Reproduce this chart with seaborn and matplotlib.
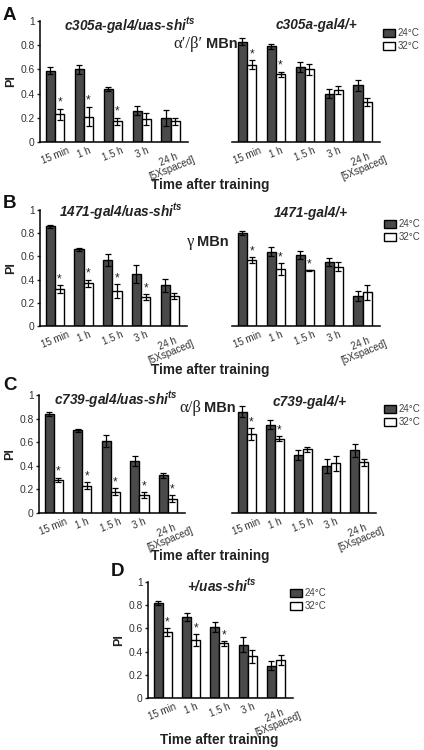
import matplotlib
matplotlib.use("Agg")
import matplotlib.pyplot as plt
import seaborn as sns
import pandas as pd

# --- data -----------------------------------------------------------------
times = ["15 min", "1 h", "1.5 h", "3 h", "24 h\n[5Xspaced]"]
temps = ["24°C", "32°C"]

# A: c305a-gal4/uas-shi^ts  and  c305a-gal4/+
a_shi_24 = [0.59, 0.60, 0.44, 0.26, 0.20]
a_shi_24_err = [0.03, 0.04, 0.015, 0.035, 0.065]
a_shi_32 = [0.23, 0.21, 0.17, 0.19, 0.17]
a_shi_32_err = [0.045, 0.08, 0.03, 0.05, 0.03]
a_shi_stars = [0, 1, 2]

a_ctl_24 = [0.83, 0.79, 0.62, 0.40, 0.47]
a_ctl_24_err = [0.03, 0.02, 0.045, 0.035, 0.045]
a_ctl_32 = [0.64, 0.56, 0.60, 0.43, 0.33]
a_ctl_32_err = [0.035, 0.02, 0.045, 0.03, 0.035]
a_ctl_stars = [0, 1]

# B: 1471-gal4/uas-shi^ts  and  1471-gal4/+
b_shi_24 = [0.86, 0.66, 0.57, 0.45, 0.35]
b_shi_24_err = [0.015, 0.01, 0.055, 0.08, 0.055]
b_shi_32 = [0.32, 0.37, 0.30, 0.25, 0.26]
b_shi_32_err = [0.035, 0.03, 0.06, 0.025, 0.025]
b_shi_stars = [0, 1, 2, 3]

b_ctl_24 = [0.80, 0.64, 0.61, 0.55, 0.26]
b_ctl_24_err = [0.015, 0.04, 0.035, 0.035, 0.045]
b_ctl_32 = [0.57, 0.49, 0.48, 0.51, 0.29]
b_ctl_32_err = [0.025, 0.05, 0.005, 0.04, 0.065]
b_ctl_stars = [0, 1, 2]

# C: c739-gal4/uas-shi^ts  and  c739-gal4/+
c_shi_24 = [0.84, 0.70, 0.61, 0.44, 0.32]
c_shi_24_err = [0.02, 0.01, 0.05, 0.04, 0.02]
c_shi_32 = [0.28, 0.23, 0.18, 0.15, 0.12]
c_shi_32_err = [0.02, 0.03, 0.03, 0.025, 0.03]
c_shi_stars = [0, 1, 2, 3, 4]

c_ctl_24 = [0.86, 0.75, 0.49, 0.40, 0.53]
c_ctl_24_err = [0.05, 0.04, 0.04, 0.06, 0.055]
c_ctl_32 = [0.67, 0.63, 0.54, 0.42, 0.43]
c_ctl_32_err = [0.05, 0.02, 0.02, 0.06, 0.03]
c_ctl_stars = [0, 1]

# D: +/uas-shi^ts
d_24 = [0.82, 0.70, 0.61, 0.46, 0.28]
d_24_err = [0.02, 0.035, 0.045, 0.065, 0.04]
d_32 = [0.57, 0.50, 0.47, 0.36, 0.33]
d_32_err = [0.035, 0.05, 0.02, 0.055, 0.045]
d_stars = [0, 1, 2]

# --- style -----------------------------------------------------------------
sns.set_style("white")
plt.rcParams["font.family"] = ["Liberation Sans", "DejaVu Sans"]
plt.rcParams["mathtext.fontset"] = "custom"
plt.rcParams["mathtext.it"] = "Liberation Sans:italic:bold"
plt.rcParams["mathtext.rm"] = "Liberation Sans:bold"

W, H = 424, 750
fig = plt.figure(figsize=(W / 100, H / 100), dpi=100)
fig.patch.set_facecolor("white")

pal = {"24°C": "#4a4a4a", "32°C": "white"}
txt_gray = "#333333"


def px_axes(x0, x1, ytop, ybot):
    return fig.add_axes([x0 / W, 1 - ybot / H, (x1 - x0) / W, (ybot - ytop) / H])


def fig_txt(x, y, s, **kw):
    return fig.text(x / W, 1 - y / H, s, **kw)


def draw_panel(ax, m24, e24, m32, e32, stars, show_y, legend_at=None):
    df = pd.DataFrame({
        "time": times * 2,
        "temp": [temps[0]] * 5 + [temps[1]] * 5,
        "pi": m24 + m32,
    })
    sns.barplot(data=df, x="time", y="pi", hue="temp", order=times,
                hue_order=temps, palette=pal, saturation=1, width=0.64,
                gap=0, edgecolor="black", linewidth=1.0, errorbar=None,
                legend=legend_at is not None, ax=ax)

    # error bars on top of the seaborn bars
    for cont, errs in zip(ax.containers[:2], [e24, e32]):
        xs = [p.get_x() + p.get_width() / 2 for p in cont.patches]
        hs = [p.get_height() for p in cont.patches]
        ax.errorbar(xs, hs, yerr=errs, fmt="none", ecolor="black",
                    elinewidth=0.9, capsize=2.3, capthick=0.9, zorder=5)

    # significance stars over the 32°C bars
    pats = ax.containers[1].patches
    for i in stars:
        p = pats[i]
        ax.text(p.get_x() + p.get_width() / 2, m32[i] + e32[i] + 0.05, "*",
                ha="center", va="center", fontsize=8.5, color="#222222")

    ax.set_ylim(0, 1)
    ax.set_xlim(-0.52, 4.6)
    ax.set_xlabel("")
    ax.set_ylabel("")
    ax.set_xticks(range(5))
    ax.set_xticklabels(times, rotation=22, fontsize=7, color=txt_gray,
                       linespacing=0.9)
    ax.tick_params(axis="x", length=0, pad=2.5)
    sns.despine(ax=ax, left=not show_y)
    for s in ["bottom", "left"]:
        ax.spines[s].set_linewidth(1.1)
        ax.spines[s].set_color("black")
    if show_y:
        ax.set_yticks([0, 0.2, 0.4, 0.6, 0.8, 1])
        ax.set_yticklabels(["0", "0.2", "0.4", "0.6", "0.8", "1"],
                           fontsize=7.4, color=txt_gray)
        ax.tick_params(axis="y", length=2.5, width=1.0, pad=1.5, left=True)
        ax.set_ylabel("PI", fontsize=9, fontweight="bold", color="#222222")
        ax.yaxis.set_label_coords(-0.155, 0.5)
    else:
        ax.set_yticks([])

    if legend_at is not None:
        handles, labels = ax.get_legend_handles_labels()
        ax.legend(handles, labels, loc="upper left",
                  bbox_to_anchor=(legend_at[0] / W, 1 - legend_at[1] / H),
                  bbox_transform=fig.transFigure, frameon=False,
                  fontsize=7, labelcolor="#444444", handlelength=1.2,
                  handleheight=0.9, handletextpad=0.3, labelspacing=0.3,
                  borderpad=0, borderaxespad=0)


# --- panels ----------------------------------------------------------------
ax = px_axes(40, 188, 21, 142)
draw_panel(ax, a_shi_24, a_shi_24_err, a_shi_32, a_shi_32_err, a_shi_stars, True)
ax = px_axes(232, 380, 21, 142)
draw_panel(ax, a_ctl_24, a_ctl_24_err, a_ctl_32, a_ctl_32_err, a_ctl_stars,
           False, legend_at=(383, 28))

ax = px_axes(40, 187, 210, 326)
draw_panel(ax, b_shi_24, b_shi_24_err, b_shi_32, b_shi_32_err, b_shi_stars, True)
ax = px_axes(232, 380, 210, 326)
draw_panel(ax, b_ctl_24, b_ctl_24_err, b_ctl_32, b_ctl_32_err, b_ctl_stars,
           False, legend_at=(384, 219))

ax = px_axes(39, 185, 395, 513)
draw_panel(ax, c_shi_24, c_shi_24_err, c_shi_32, c_shi_32_err, c_shi_stars, True)
ax = px_axes(232, 376, 395, 513)
draw_panel(ax, c_ctl_24, c_ctl_24_err, c_ctl_32, c_ctl_32_err, c_ctl_stars,
           False, legend_at=(384, 404))

ax = px_axes(148, 293, 582, 698)
draw_panel(ax, d_24, d_24_err, d_32, d_32_err, d_stars, True,
           legend_at=(290, 588))

# --- titles, labels --------------------------------------------------------
title_kw = dict(ha="center", va="center", fontsize=9.8, fontweight="bold",
                fontstyle="italic", color="#222222")
fig_txt(130, 26, "c305a-gal4/uas-shi$^{ts}$", **title_kw)
fig_txt(316, 25, "c305a-gal4/+", **title_kw)
fig_txt(121, 212, "1471-gal4/uas-shi$^{ts}$", **title_kw)
fig_txt(311, 213, "1471-gal4/+", **title_kw)
fig_txt(116, 400, "c739-gal4/uas-shi$^{ts}$", **title_kw)
fig_txt(310, 402, "c739-gal4/+", **title_kw)
fig_txt(222, 586, "+/uas-shi$^{ts}$", **title_kw)

serif = ["Liberation Serif", "DejaVu Serif"]
mbn_kw = dict(ha="right", va="center", fontsize=10.5, fontweight="bold", color="#222222")
gr_kw = dict(ha="right", va="center", fontsize=12, family=serif, color="#222222")
fig_txt(203, 44, "\u03b1\u2032/\u03b2\u2032", **gr_kw)
fig_txt(238, 44, "MBn", **mbn_kw)
fig_txt(194, 242, "\u03b3", **gr_kw)
fig_txt(229, 242, "MBn", **mbn_kw)
fig_txt(201, 408, "\u03b1/\u03b2", **gr_kw)
fig_txt(236, 408, "MBn", **mbn_kw)

xl_kw = dict(ha="center", va="center", fontsize=9.8, fontweight="bold", color="#222222")
fig_txt(210, 185, "Time after training", **xl_kw)
fig_txt(210, 370, "Time after training", **xl_kw)
fig_txt(210, 556, "Time after training", **xl_kw)
fig_txt(219, 740, "Time after training", **xl_kw)

let_kw = dict(ha="left", va="center", fontsize=13.5, fontweight="bold", color="#111111")
fig_txt(3, 15, "A", **let_kw)
fig_txt(3, 203, "B", **let_kw)
fig_txt(3, 385, "C", **let_kw)
fig_txt(111, 571, "D", **let_kw)

fig.savefig("out.png", dpi=100, facecolor="white")
